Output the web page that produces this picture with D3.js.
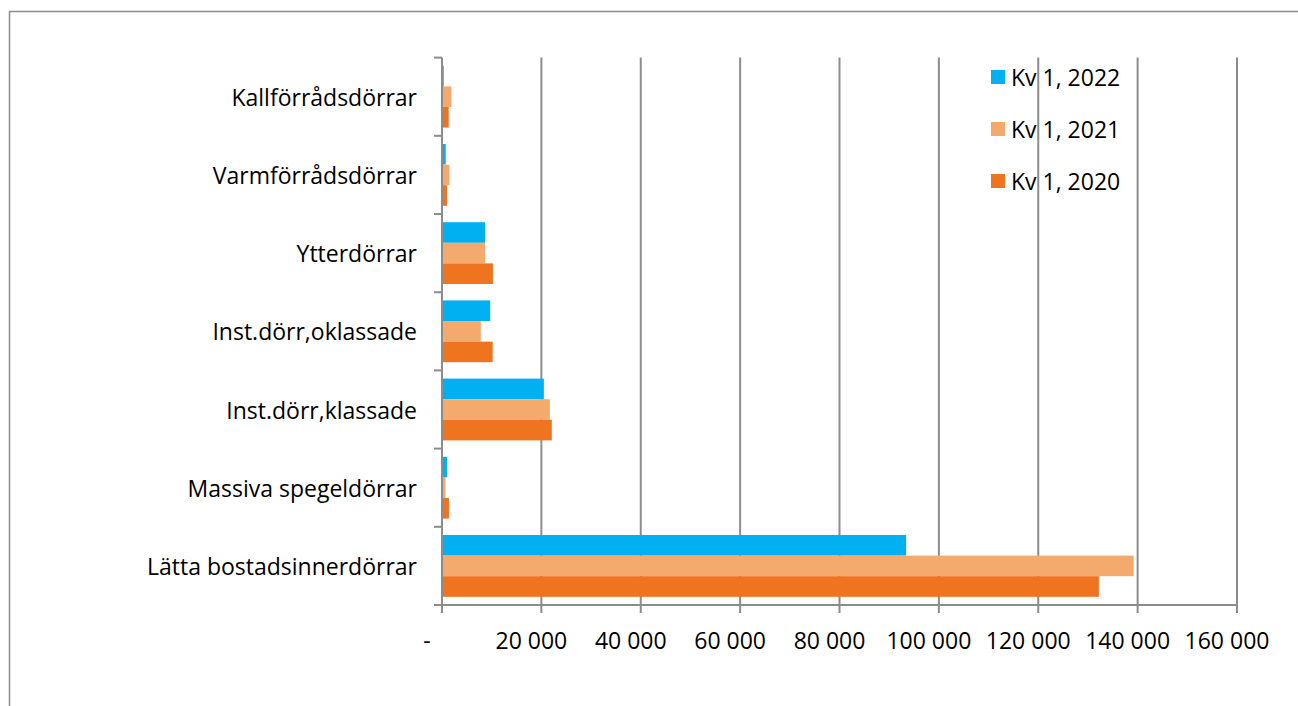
<!DOCTYPE html>
<html>
<head>
<meta charset="utf-8">
<script src="https://d3js.org/d3.v7.min.js"></script>
<style>
  body { margin: 0; background: #fff; }
  text { font-family: "Open Sans", "Noto Sans", sans-serif; fill: #000; }
</style>
</head>
<body>
<div id="chart"></div>
<script>
// categories top to bottom
var categories = ["Kallförrådsdörrar", "Varmförrådsdörrar", "Ytterdörrar",
  "Inst.dörr,oklassade", "Inst.dörr,klassade", "Massiva spegeldörrar", "Lätta bostadsinnerdörrar"];

var seriesNames = ["Kv 1, 2022", "Kv 1, 2021", "Kv 1, 2020"];
var v2022 = [350, 750, 8650, 9700, 20500, 1000, 93400];
var v2021 = [1900, 1500, 8650, 7800, 21700, 700, 139200];
var v2020 = [1350, 1000, 10250, 10200, 22100, 1400, 132200];
var tickValues = [0, 20000, 40000, 60000, 80000, 100000, 120000, 140000, 160000];
var colors = ["#00B0F0", "#F4A96D", "#EE7420"];

var W = 1298, H = 706;
var svg = d3.select("#chart").append("svg")
  .attr("width", W).attr("height", H);

// outer chart frame (continues past the bottom-right edge)
svg.append("rect")
  .attr("x", 9.5).attr("y", 11.5)
  .attr("width", 1320).attr("height", 720)
  .attr("fill", "none").attr("stroke", "#8c8c8c").attr("stroke-width", 1.5);

var x = d3.scaleLinear().domain([0, 160000]).range([442, 1237]);
var y = d3.scaleBand().domain(categories).range([57.6, 605])
  .paddingInner(0.21).paddingOuter(0.105);
var yInner = d3.scaleBand().domain(seriesNames).range([0, y.bandwidth()]);

var gridColor = "#8c8c8c";

// vertical gridlines
svg.append("g").selectAll("line")
  .data(tickValues.slice(1))
  .join("line")
    .attr("x1", function(d) { return x(d); })
    .attr("x2", function(d) { return x(d); })
    .attr("y1", 57.6).attr("y2", 613)
    .attr("stroke", gridColor).attr("stroke-width", 2);

// bars
var series = [v2022, v2021, v2020];
seriesNames.forEach(function(name, si) {
  svg.append("g").attr("fill", colors[si])
    .selectAll("rect")
    .data(categories)
    .join("rect")
      .attr("x", x(0))
      .attr("y", function(c) { return y(c) + yInner(name); })
      .attr("width", function(c, i) { return x(series[si][i]) - x(0); })
      .attr("height", yInner.bandwidth());
});

// y axis line and ticks
var yEdges = categories.map(function(c) { return y(c) - y.step() * 0.105; });
yEdges.push(605);
svg.append("line")
  .attr("x1", 442).attr("x2", 442).attr("y1", 57.6).attr("y2", 613)
  .attr("stroke", gridColor).attr("stroke-width", 2);
svg.append("g").selectAll("line")
  .data(yEdges)
  .join("line")
    .attr("x1", 434).attr("x2", 442)
    .attr("y1", function(d) { return d; })
    .attr("y2", function(d) { return d; })
    .attr("stroke", gridColor).attr("stroke-width", 2);

// x axis line
svg.append("line")
  .attr("x1", 434).attr("x2", x(160000)).attr("y1", 605).attr("y2", 605)
  .attr("stroke", gridColor).attr("stroke-width", 2);

// category labels
svg.append("g").selectAll("text")
  .data(categories)
  .join("text")
    .attr("x", 417)
    .attr("y", function(c) { return y(c) + y.bandwidth() / 2; })
    .attr("text-anchor", "end")
    .attr("dominant-baseline", "central")
    .style("font-size", "23px")
    .text(function(c) { return c; });

// x tick labels
var fmt = function(d) { return d === 0 ? "-" : d3.format(",")(d).replace(/,/g, " "); };
svg.append("g").selectAll("text")
  .data(tickValues)
  .join("text")
    .attr("x", function(d) { return x(d) - (d === 0 ? 15 : 10); })
    .attr("y", 640)
    .attr("text-anchor", "middle")
    .attr("dominant-baseline", "central")
    .style("font-size", "23px")
    .text(fmt);

// legend
var legend = svg.append("g").selectAll("g")
  .data(seriesNames)
  .join("g")
    .attr("transform", function(d, i) { return "translate(991," + (77 + i * 52) + ")"; });
legend.append("rect")
  .attr("x", 0).attr("y", -7).attr("width", 14).attr("height", 14)
  .attr("fill", function(d, i) { return colors[i]; });
legend.append("text")
  .attr("x", 20).attr("y", 0)
  .attr("dominant-baseline", "central")
  .style("font-size", "23px")
  .text(function(d) { return d; });
</script>
</body>
</html>
